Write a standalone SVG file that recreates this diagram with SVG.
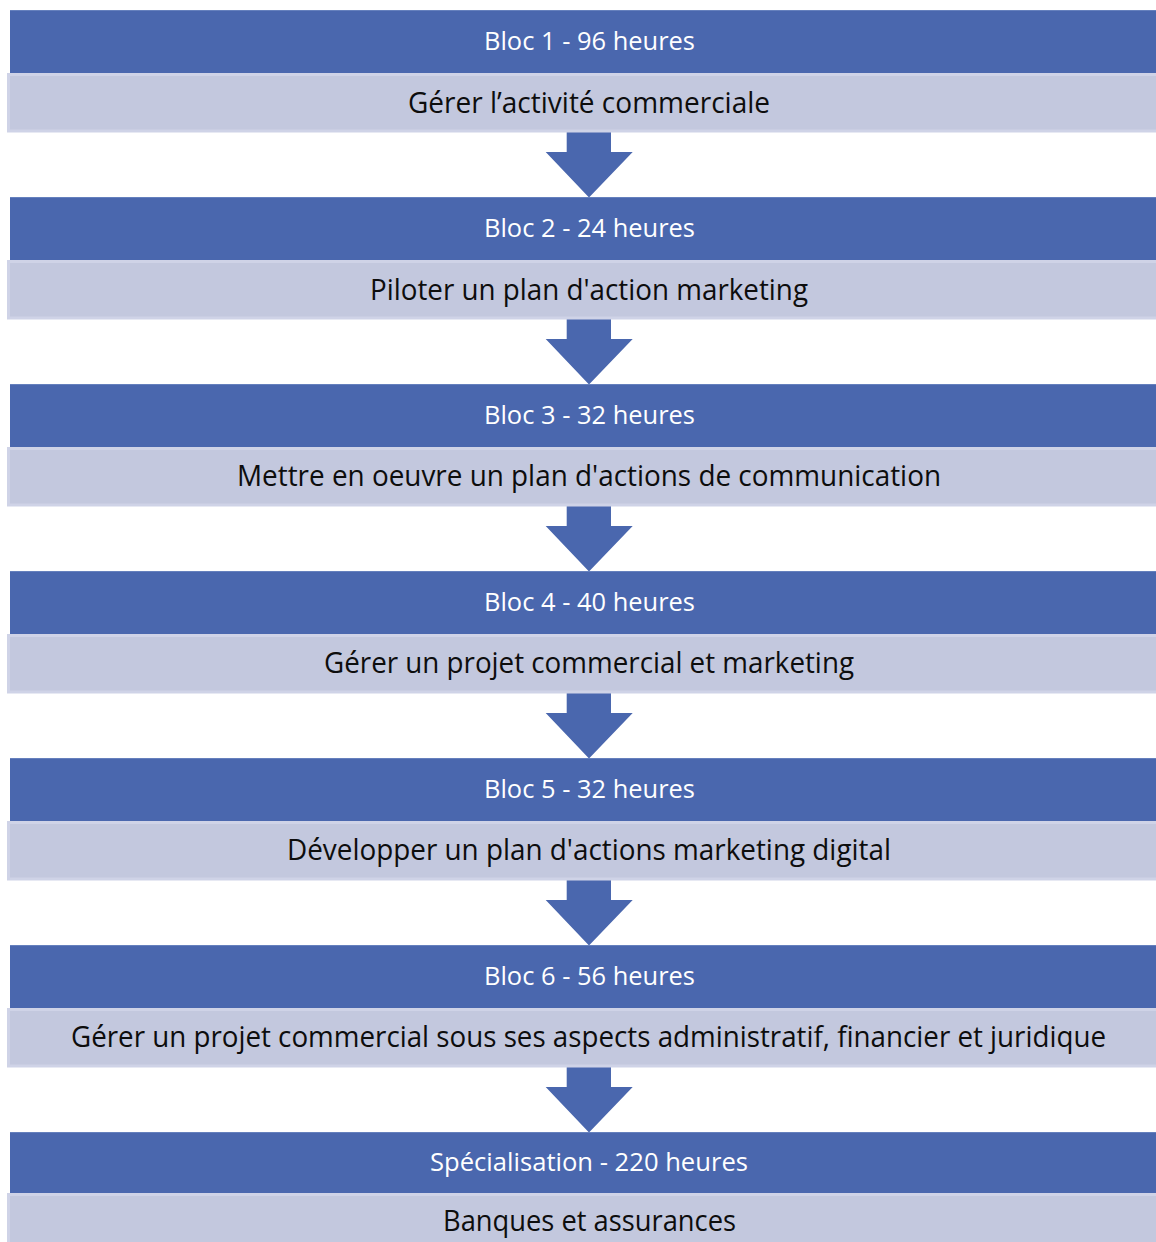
<svg xmlns="http://www.w3.org/2000/svg" width="1156" height="1242" viewBox="0 0 1156 1242">
  <style>
    .hdr { fill: #4a67ae; }
    .hdr-edge { fill: #6580bd; }
    .band { fill: #c3c8de; stroke: #cfd3e7; stroke-width: 3; }
    .arrow { fill: #4a67ae; }
    .t-hdr { font-family: "Open Sans", "Liberation Sans", sans-serif; font-size: 26px; fill: #ffffff; text-anchor: middle; }
    .t-band { font-family: "Open Sans", "Liberation Sans", sans-serif; font-size: 29.5px; fill: #0d0d0d; text-anchor: middle; }
  </style>
  <defs>
    <!-- downward block arrow, drawn at the first gap and shifted for the others -->
    <path id="down" d="M566.7,132 H611 V152 H632.7 L589,197.5 L545.7,152 H566.7 Z"/>
  </defs>
  <rect width="1156" height="1242" fill="#ffffff"/>

  <g id="connectors" class="arrow">
    <use href="#down"/>
    <use href="#down" y="187"/>
    <use href="#down" y="374"/>
    <use href="#down" y="561"/>
    <use href="#down" y="748"/>
    <use href="#down" y="935"/>
  </g>

  <g id="bloc1">
    <rect class="hdr" x="10" y="10" width="1160" height="63"/>
    <rect class="hdr-edge" x="10" y="10" width="1160" height="1"/>
    <rect class="band" x="8.5" y="74.5" width="1160" height="56.5"/>
    <text class="t-hdr" x="589.5" y="50" textLength="211" lengthAdjust="spacingAndGlyphs">Bloc 1 - 96 heures</text>
    <text class="t-band" x="589" y="113" textLength="362" lengthAdjust="spacingAndGlyphs">Gérer l’activité commerciale</text>
  </g>

  <g id="bloc2">
    <rect class="hdr" x="10" y="197" width="1160" height="63"/>
    <rect class="hdr-edge" x="10" y="197" width="1160" height="1"/>
    <rect class="band" x="8.5" y="261.5" width="1160" height="56.5"/>
    <text class="t-hdr" x="589.5" y="237" textLength="211" lengthAdjust="spacingAndGlyphs">Bloc 2 - 24 heures</text>
    <text class="t-band" x="589" y="300" textLength="438" lengthAdjust="spacingAndGlyphs">Piloter un plan d'action marketing</text>
  </g>

  <g id="bloc3">
    <rect class="hdr" x="10" y="384" width="1160" height="63"/>
    <rect class="hdr-edge" x="10" y="384" width="1160" height="1"/>
    <rect class="band" x="8.5" y="448.5" width="1160" height="56.5"/>
    <text class="t-hdr" x="589.5" y="424" textLength="211" lengthAdjust="spacingAndGlyphs">Bloc 3 - 32 heures</text>
    <text class="t-band" x="589" y="486" textLength="704" lengthAdjust="spacingAndGlyphs">Mettre en oeuvre un plan d'actions de communication</text>
  </g>

  <g id="bloc4">
    <rect class="hdr" x="10" y="571" width="1160" height="63"/>
    <rect class="hdr-edge" x="10" y="571" width="1160" height="1"/>
    <rect class="band" x="8.5" y="635.5" width="1160" height="56.5"/>
    <text class="t-hdr" x="589.5" y="611" textLength="211" lengthAdjust="spacingAndGlyphs">Bloc 4 - 40 heures</text>
    <text class="t-band" x="589" y="673" textLength="530" lengthAdjust="spacingAndGlyphs">Gérer un projet commercial et marketing</text>
  </g>

  <g id="bloc5">
    <rect class="hdr" x="10" y="758" width="1160" height="63"/>
    <rect class="hdr-edge" x="10" y="758" width="1160" height="1"/>
    <rect class="band" x="8.5" y="822.5" width="1160" height="56.5"/>
    <text class="t-hdr" x="589.5" y="798" textLength="211" lengthAdjust="spacingAndGlyphs">Bloc 5 - 32 heures</text>
    <text class="t-band" x="589" y="860" textLength="604" lengthAdjust="spacingAndGlyphs">Développer un plan d'actions marketing digital</text>
  </g>

  <g id="bloc6">
    <rect class="hdr" x="10" y="945" width="1160" height="63"/>
    <rect class="hdr-edge" x="10" y="945" width="1160" height="1"/>
    <rect class="band" x="8.5" y="1009.5" width="1160" height="56.5"/>
    <text class="t-hdr" x="589.5" y="985" textLength="211" lengthAdjust="spacingAndGlyphs">Bloc 6 - 56 heures</text>
    <text class="t-band" x="588.5" y="1047" textLength="1035" lengthAdjust="spacingAndGlyphs">Gérer un projet commercial sous ses aspects administratif, financier et juridique</text>
  </g>

  <g id="specialisation">
    <rect class="hdr" x="10" y="1132" width="1160" height="61"/>
    <rect class="hdr-edge" x="10" y="1132" width="1160" height="1"/>
    <rect class="band" x="8.5" y="1194.5" width="1160" height="60"/>
    <text class="t-hdr" x="589" y="1171" textLength="318" lengthAdjust="spacingAndGlyphs">Spécialisation - 220 heures</text>
    <text class="t-band" x="589.5" y="1231" textLength="293" lengthAdjust="spacingAndGlyphs">Banques et assurances</text>
  </g>
</svg>
